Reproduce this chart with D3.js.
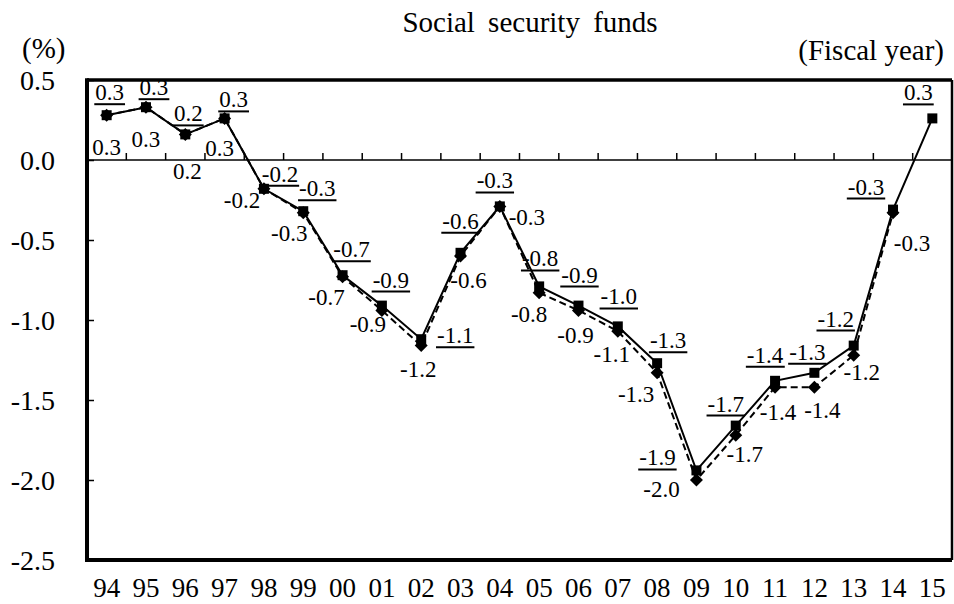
<!DOCTYPE html>
<html>
<head>
<meta charset="utf-8">
<script src="https://cdn.jsdelivr.net/npm/d3@7"></script>
<style>
  html, body { margin: 0; padding: 0; background: #fff; }
  svg { display: block; font-family: "Liberation Serif", "Times New Roman", serif; }
</style>
</head>
<body>
<svg id="chart" width="954" height="604"></svg>
<script>
// ---- data ----
const years = ["94","95","96","97","98","99","00","01","02","03","04","05","06","07","08","09","10","11","12","13","14","15"];
const seriesSolid = [0.28, 0.33, 0.16, 0.26, -0.18, -0.32, -0.72, -0.91, -1.12, -0.58, -0.29, -0.79, -0.91, -1.04, -1.27, -1.94, -1.66, -1.38, -1.33, -1.16, -0.31, 0.26];
const seriesDashed = [0.28, 0.33, 0.16, 0.26, -0.18, -0.33, -0.73, -0.94, -1.16, -0.60, -0.29, -0.83, -0.94, -1.07, -1.33, -2.00, -1.72, -1.42, -1.42, -1.22, -0.33];
const yTicks = [0.5, 0.0, -0.5, -1.0, -1.5, -2.0, -2.5];

// ---- label placement (layout only) ----
const solidLabelOffset = [[3,-15],[8,-12],[3,-13],[9,-11],[16,-7],[14,-15],[9,-18],[9,-18],[34,4],[0,-24],[-5,-18],[1,-20],[1,-23],[1,-22],[11,-15],[-39,-5],[-10,-14],[-10,-18],[-7,-13],[-18,-19],[-27,-15],[-14,-18]];
const dashedLabelOffset = [[0,40],[0,40],[2,45],[-5,38],[-22,19],[-14,28],[-16,28],[-14,22],[-3,31],[8,32],[27,19],[-10,29],[-3,33],[-6,31],[-21,29],[-35,17],[9,27],[3,33],[8,31],[8,25],[19,38]];

const svg = d3.select("#chart");
const L = 87, R = 952, T = 80, B = 560;

const x = d3.scaleBand().domain(years).range([L, R]).padding(0);
const y = d3.scaleLinear().domain([-2.5, 0.5]).range([B, T]);
const cx = d => x(d) + x.bandwidth() / 2;
const fmt = v => v.toFixed(1);

// title & units
svg.append("text").attr("x", 530).attr("y", 32).attr("text-anchor", "middle")
  .attr("font-size", 29).attr("word-spacing", 6).text("Social security funds");
svg.append("text").attr("x", 22).attr("y", 58).attr("font-size", 29).text("(%)");
svg.append("text").attr("x", 944).attr("y", 60).attr("text-anchor", "end")
  .attr("font-size", 29).text("(Fiscal year)");

// zero line
svg.append("line").attr("x1", L).attr("x2", R).attr("y1", y(0)).attr("y2", y(0))
  .attr("stroke", "#000").attr("stroke-width", 1.5);

// category boundary ticks on zero line (pointing up)
const bounds = years.slice(1).map(d => x(d));
svg.append("g").selectAll("line").data(bounds).join("line")
  .attr("x1", d => d).attr("x2", d => d)
  .attr("y1", y(0)).attr("y2", y(0) - 7)
  .attr("stroke", "#000").attr("stroke-width", 1.5);

// y axis
const yAxis = d3.axisLeft(y).tickValues(yTicks).tickFormat(fmt)
  .tickSizeInner(-7).tickSizeOuter(0).tickPadding(32);
const gy = svg.append("g").attr("transform", `translate(${L},0)`).call(yAxis);
gy.select(".domain").remove();
gy.selectAll(".tick line").attr("stroke", "#000").attr("stroke-width", 1.5);
gy.selectAll(".tick text").attr("font-size", 28).attr("fill", "#000")
  .attr("font-family", "Liberation Serif, serif").attr("dy", "0.35em");

// x axis labels
const xAxis = d3.axisBottom(x).tickSize(0).tickPadding(0);
const gx = svg.append("g").attr("transform", `translate(0,${B})`).call(xAxis);
gx.select(".domain").remove();
gx.selectAll(".tick text").attr("font-size", 27).attr("fill", "#000")
  .attr("font-family", "Liberation Serif, serif").attr("dy", null).attr("y", 37);

// frame
svg.append("line").attr("x1", L).attr("x2", R).attr("y1", T).attr("y2", T).attr("stroke", "#000").attr("stroke-width", 3.5);
svg.append("line").attr("x1", R).attr("x2", R).attr("y1", T).attr("y2", B).attr("stroke", "#000").attr("stroke-width", 2.5);
svg.append("line").attr("x1", L).attr("x2", R).attr("y1", B).attr("y2", B).attr("stroke", "#000").attr("stroke-width", 4);
svg.append("line").attr("x1", L).attr("x2", L).attr("y1", T - 1.75).attr("y2", B + 2).attr("stroke", "#000").attr("stroke-width", 4);

// lines
const lineGen = d3.line().x(d => cx(d.year)).y(d => y(d.v));
const dashedData = seriesDashed.map((v, i) => ({ year: years[i], v, i }));
const solidData = seriesSolid.map((v, i) => ({ year: years[i], v, i }));

svg.append("path").datum(dashedData).attr("d", lineGen)
  .attr("fill", "none").attr("stroke", "#000").attr("stroke-width", 2).attr("stroke-dasharray", "7,4");
svg.append("path").datum(solidData).attr("d", lineGen)
  .attr("fill", "none").attr("stroke", "#000").attr("stroke-width", 2);

// markers
svg.append("g").selectAll("rect").data(dashedData).join("rect")
  .attr("x", -4.6).attr("y", -4.6).attr("width", 9.2).attr("height", 9.2)
  .attr("transform", d => `translate(${cx(d.year)},${y(d.v)}) rotate(45)`)
  .attr("fill", "#000");
svg.append("g").selectAll("rect").data(solidData).join("rect")
  .attr("x", d => cx(d.year) - 5).attr("y", d => y(d.v) - 5)
  .attr("width", 10).attr("height", 10).attr("fill", "#000");

// dashed labels (below)
svg.append("g").selectAll("text").data(dashedData).join("text")
  .attr("x", d => cx(d.year) + dashedLabelOffset[d.i][0])
  .attr("y", d => y(d.v) + dashedLabelOffset[d.i][1])
  .attr("text-anchor", "middle").attr("font-size", 23)
  .text(d => fmt(d.v));

// solid labels (above, underlined)
const sl = svg.append("g").selectAll("g").data(solidData).join("g");
sl.append("text")
  .attr("x", d => cx(d.year) + solidLabelOffset[d.i][0])
  .attr("y", d => y(d.v) + solidLabelOffset[d.i][1])
  .attr("text-anchor", "middle").attr("font-size", 23)
  .text(d => fmt(d.v));
sl.each(function() {
  const t = d3.select(this).select("text");
  const bb = t.node().getBBox();
  const by = +t.attr("y");
  d3.select(this).append("line")
    .attr("x1", bb.x - 1).attr("x2", bb.x + bb.width + 1)
    .attr("y1", by + 4).attr("y2", by + 4)
    .attr("stroke", "#000").attr("stroke-width", 2);
});
</script>
</body>
</html>
